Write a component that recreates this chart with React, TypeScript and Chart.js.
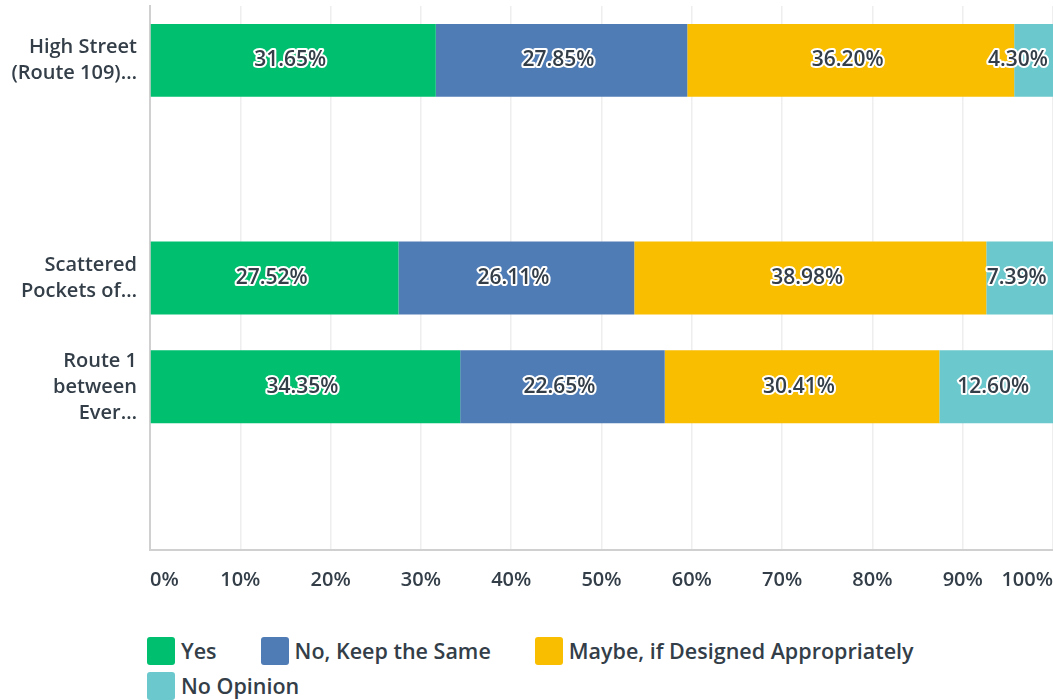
import React, { useEffect, useRef } from "react";
import { Chart, registerables } from "chart.js";

Chart.register(...registerables);

const categories: (string | string[])[] = [
  ["High Street", "(Route 109)…"],
  "",
  ["Scattered", "Pockets of…"],
  ["Route 1", "between", "Ever…"],
  "",
];
const yesValues = [31.65, null, 27.52, 34.35, null];
const noValues = [27.85, null, 26.11, 22.65, null];
const maybeValues = [36.2, null, 38.98, 30.41, null];
const noOpinionValues = [4.3, null, 7.39, 12.6, null];
const seriesNames = ["Yes", "No, Keep the Same", "Maybe, if Designed Appropriately", "No Opinion"];
const seriesColors = ["#00bf6f", "#507cb6", "#f9be00", "#6bc8cd"];
const xTicks = [0, 10, 20, 30, 40, 50, 60, 70, 80, 90, 100];

const FONT = "'Open Sans', 'DejaVu Sans', sans-serif";
const TEXT = "#333e48";

const valueLabels = {
  id: "valueLabels",
  afterDatasetsDraw(chart: any) {
    const ctx = chart.ctx;
    const area = chart.chartArea;
    ctx.save();
    ctx.font = `600 21px ${FONT}`;
    ctx.textAlign = "center";
    ctx.textBaseline = "middle";
    ctx.lineJoin = "round";
    chart.data.datasets.forEach((ds: any, i: number) => {
      const meta = chart.getDatasetMeta(i);
      meta.data.forEach((bar: any, j: number) => {
        const v = ds.data[j];
        if (v == null) return;
        const p = bar.getProps(["x", "y", "base"], true);
        const text = v.toFixed(2) + "%";
        const w = ctx.measureText(text).width;
        let cx = (p.x + p.base) / 2 - 3;
        if (cx + w / 2 > area.right - 5) cx = area.right - 5 - w / 2;
        ctx.strokeStyle = "#ffffff";
        ctx.lineWidth = 4;
        ctx.strokeText(text, cx, p.y);
        ctx.fillStyle = TEXT;
        ctx.fillText(text, cx, p.y);
      });
    });
    ctx.restore();
  },
};

export default function App() {
  const ref = useRef<HTMLCanvasElement>(null);
  useEffect(() => {
    if (!ref.current) return;
    const valuesList = [yesValues, noValues, maybeValues, noOpinionValues];
    const chart = new Chart(ref.current, {
      type: "bar",
      data: {
        labels: categories,
        datasets: valuesList.map((vals, i) => ({
          label: seriesNames[i],
          data: vals,
          backgroundColor: seriesColors[i],
          borderWidth: 0,
          categoryPercentage: 1,
          barPercentage: 0.67,
        })),
      },
      options: {
        indexAxis: "y",
        responsive: false,
        maintainAspectRatio: false,
        animation: false,
        devicePixelRatio: 1,
        layout: { padding: { top: 6, left: 0, right: 0, bottom: 0 } },
        plugins: {
          legend: { display: false },
          tooltip: { enabled: false },
        },
        scales: {
          x: {
            stacked: true,
            min: 0,
            max: 100,
            afterBuildTicks(scale: any) {
              scale.ticks = xTicks.map((v) => ({ value: v }));
            },
            afterFit(scale: any) {
              scale.height = 55;
              scale.paddingLeft = 0;
              scale.paddingRight = 0;
            },
            ticks: {
              align: "inner",
              padding: 18,
              color: TEXT,
              font: { family: FONT, size: 20, weight: "600" },
              callback: (v: any) => v + "%",
            },
            grid: { color: "#eeeeee", lineWidth: 1.5, drawTicks: false },
            border: { display: true, color: "#d0d0d0", width: 2 },
          },
          y: {
            stacked: true,
            afterFit(scale: any) {
              scale.width = 150;
              scale.paddingTop = 0;
              scale.paddingBottom = 0;
            },
            ticks: {
              padding: 13,
              color: TEXT,
              font: { family: FONT, size: 20, weight: "600", lineHeight: 1.3 },
            },
            grid: { display: false, drawTicks: false },
            border: { display: true, color: "#d0d0d0", width: 2 },
          },
        },
      } as any,
      plugins: [valueLabels],
    });
    return () => chart.destroy();
  }, []);

  return (
    <div style={{ position: "absolute", left: 0, top: 0, width: 1053, height: 700, background: "#fff" }}>
      <canvas ref={ref} width={1053} height={605} style={{ width: 1053, height: 605, display: "block" }} />
      <div
        style={{
          position: "absolute",
          left: 147,
          top: 637,
          width: 900,
          display: "flex",
          flexWrap: "wrap",
          rowGap: 7,
          fontFamily: FONT,
          fontWeight: 600,
          fontSize: 21.5,
          color: TEXT,
        }}
      >
        {seriesNames.map((name, i) => (
          <div key={name} style={{ display: "flex", alignItems: "center", height: 28, marginRight: 44 }}>
            <span
              style={{
                display: "inline-block",
                width: 28,
                height: 28,
                borderRadius: 3,
                background: seriesColors[i],
                marginRight: 6,
              }}
            />
            <span style={{ whiteSpace: "nowrap", lineHeight: "28px" }}>{name}</span>
          </div>
        ))}
      </div>
    </div>
  );
}
